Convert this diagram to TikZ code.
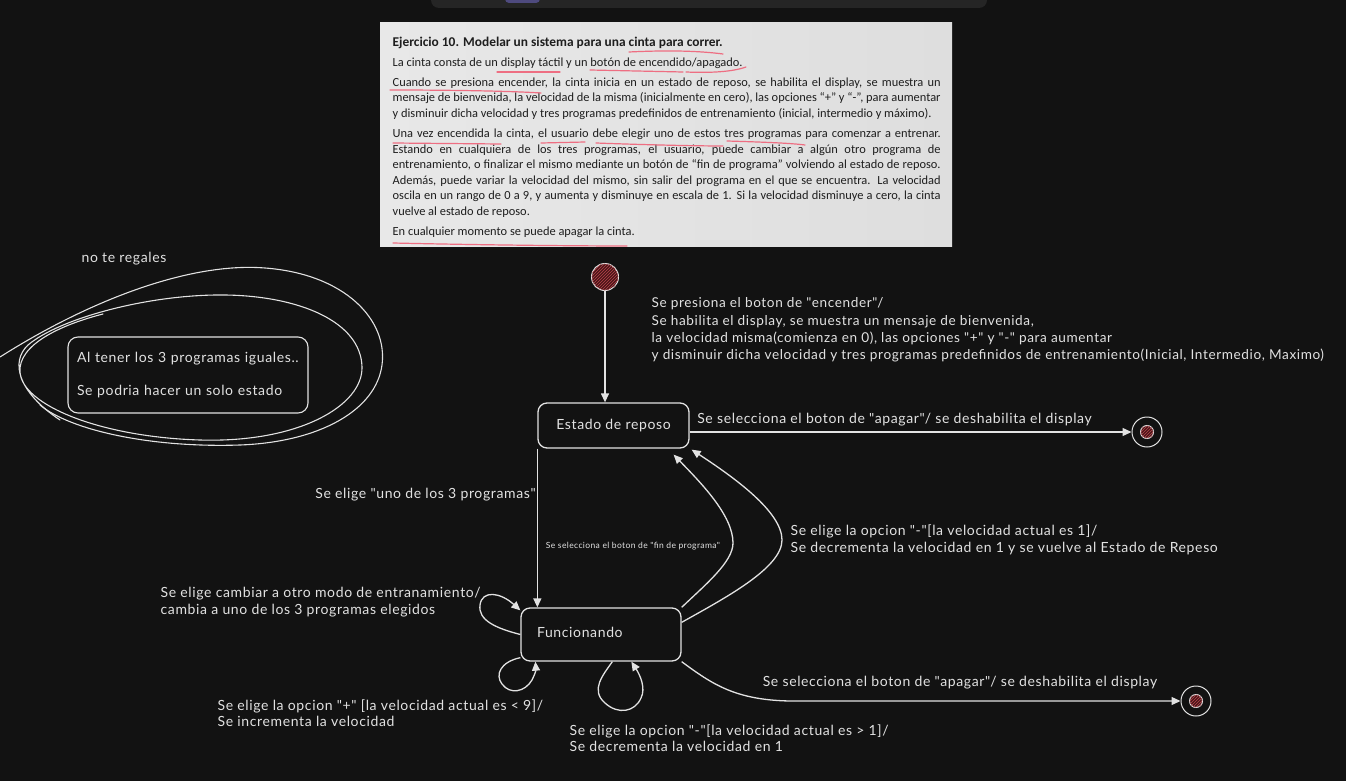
\documentclass[tikz,border=0pt]{standalone}
\usepackage{fontspec}
\setmainfont{Lato}
\newfontfamily\handfam{Lato}[LetterSpace=4.5]
\newfontfamily\carlito{Carlito}
\usetikzlibrary{arrows.meta, patterns}

\definecolor{fondo}{HTML}{121212}
\definecolor{barra}{HTML}{252525}
\definecolor{violeta}{HTML}{4E4A7E}
\definecolor{papel}{HTML}{E8E8E8}
\definecolor{papelOsc}{HTML}{DEDEDE}
\definecolor{letra}{HTML}{1E1E1E}
\definecolor{ink}{HTML}{E2E2E2}
\definecolor{rosa}{HTML}{EE6E82}
\definecolor{vino}{HTML}{4A1618}
\definecolor{rayado}{HTML}{B8444C}

\newcommand\hand{\handfam\fontsize{14}{16.5}\selectfont}

\begin{document}
\begin{tikzpicture}[x=1pt, y=-1pt, line width=1.3pt,
          estado/.style={draw=ink, rounded corners=9pt, minimum width=151pt,
            minimum height=45pt, font=\hand, text=ink},
          inicio/.style={circle, draw=ink, line width=1pt, fill=vino,
            postaction={pattern=north east lines, pattern color=rayado},
            minimum size=27pt, inner sep=0pt},
          fin/.style={circle, draw=ink, line width=1pt, minimum size=30pt, inner sep=0pt},
          trans/.style={draw=ink, -{Triangle[length=9pt, width=8pt]}},
          lbl/.style={font=\hand, text=ink, align=left, inner sep=0pt},
          garabato/.style={draw=ink, line width=1.1pt, line cap=round},
          subrayado/.style={draw=rosa, line width=1.2pt, line cap=round},
        ]
          \useasboundingbox (0,0) rectangle (1346,781);
          \fill[fondo] (0,0) rectangle (1346,781);

          % barra de arriba
          \fill[barra, rounded corners=8pt] (431,-12) rectangle (987,8);
          \fill[violeta, rounded corners=4pt] (505,-8) rectangle (540,3);

          % enunciado
          \shade[left color=papel, right color=papelOsc] (380,23) rectangle (952,246);
          \node[anchor=north west, inner sep=0pt, text width=548pt, align=justify,
                text=letra, font=\carlito\fontsize{12.4}{15.6}\selectfont]
                (enunciado) at (392,36) {\setlength\parskip{4.5pt}\tolerance=10000\hbadness=10000
            {\fontsize{13.4}{15.6}\selectfont\textbf{Ejercicio 10. Modelar un sistema para una cinta para correr.}}\par
            La cinta consta de un display táctil y un botón de encendido/apagado.\par
            Cuando se presiona encender, la cinta inicia en un estado de reposo, se habilita el display, se muestra un\linebreak
            mensaje de bienvenida, la velocidad de la misma (inicialmente en cero), las opciones “+” y “-”, para aumentar\linebreak
            y disminuir dicha velocidad y tres programas predefinidos de entrenamiento (inicial, intermedio y máximo).\par
            Una vez encendida la cinta, el usuario debe elegir uno de estos tres programas para comenzar a entrenar.\linebreak
            Estando en cualquiera de los tres programas, el usuario, puede cambiar a algún otro programa de\linebreak
            entrenamiento, o finalizar el mismo mediante un botón de “fin de programa” volviendo al estado de reposo.\linebreak
            Además, puede variar la velocidad del mismo, sin salir del programa en el que se encuentra. La velocidad\linebreak
            oscila en un rango de 0 a 9, y aumenta y disminuye en escala de 1. Si la velocidad disminuye a cero, la cinta\linebreak
            vuelve al estado de reposo.\par
            En cualquier momento se puede apagar la cinta.};
          \draw[subrayado] (629,52) .. controls (670,50) and (700,51) .. (723,54);
          \draw[subrayado] (497,72) -- (560,72);
          \draw[subrayado] (590,70) -- (683,72);
          \draw[subrayado] (686,72) .. controls (710,73) and (732,72) .. (746,67);
          \draw[subrayado] (390,90) .. controls (450,90) and (510,91) .. (541,93);
          \draw[subrayado] (393,143) -- (501,144);
          \draw[subrayado] (541,143) -- (585,142);
          \draw[subrayado] (596,143) .. controls (650,145) and (700,146) .. (723,146);
          \draw[subrayado] (727,141) .. controls (760,142) and (790,143) .. (805,145);
          \draw[subrayado] (393,243) .. controls (480,245) and (580,246) .. (627,246);

          % nota
          \node[lbl] (regales) at (124,259) {no te regales};
          \node[draw=ink, line width=1.1pt, rounded corners=10pt, minimum width=240pt,
                minimum height=76pt, text width=228pt, lbl, inner xsep=6pt, text=ink]
                (nota) at (188,375) {\hspace*{3pt}Al tener los 3 programas iguales..\\[17pt]\hspace*{3pt}Se podria hacer un solo estado};
          \draw[garabato] (0,357) .. controls (90,300) and (190,262) .. (265,268)
            .. controls (345,274) and (388,320) .. (382,365)
            .. controls (376,410) and (320,442) .. (240,445)
            .. controls (150,448) and (70,430) .. (40,405);
          \draw[garabato] (103,314) .. controls (60,325) and (18,345) .. (20,372)
            .. controls (22,405) and (100,437) .. (200,440)
            .. controls (300,443) and (363,405) .. (362,367)
            .. controls (361,322) and (300,296) .. (225,295)
            .. controls (150,294) and (60,318) .. (28,345)
            .. controls (10,362) and (18,392) .. (60,420);

          % estados
          \node[inicio] (ini) at (605,277) {};
          \node[estado] (reposo) at (613.5,425.5) {Estado de reposo};
          \node[estado, minimum width=160pt, minimum height=53pt, text width=128pt,
                inner xsep=16pt, align=left] (func) at (601,634.5) {\raisebox{4pt}{Funcionando}};
          \node[fin] (fin1) at (1147,432) {};
          \node[inicio, minimum size=13pt] (fin1in) at (fin1) {};
          \node[fin] (fin2) at (1196,701) {};
          \node[inicio, minimum size=13pt] (fin2in) at (fin2) {};

          % transiciones
          \draw[trans] (ini) -- (ini |- reposo.north);
          \node[lbl, anchor=west, font=\handfam\fontsize{13.6}{17.3}\selectfont] (lblEnc) at (651,330)
            {Se presiona el boton de "encender"/\\
             Se habilita el display, se muestra un mensaje de bienvenida,\\
             la velocidad misma(comienza en 0), las opciones "+" y "-" para aumentar\\
             y disminuir dicha velocidad y tres programas predefinidos de entrenamiento(Inicial, Intermedio, Maximo)};

          \draw[trans] (reposo.east |- fin1) -- (fin1)
            node[lbl, pos=0, anchor=south west, xshift=7pt, yshift=5pt]
            {Se selecciona el boton de "apagar"/ se deshabilita el display};

          \draw[trans] (reposo.south west) -- (reposo.south west |- func.north)
            node[lbl, pos=0.29, anchor=east, xshift=-1pt] {Se elige "uno de los 3 programas"};

          \draw[trans] (func.north east) .. controls (705,585) and (733,562) .. (733,543)
            .. controls (733,515) and (700,482) .. ([xshift=-16pt,yshift=-6pt]reposo.south east);
          \node[lbl, font=\handfam\fontsize{8.5}{10}\selectfont] (lblFin) at (633,546)
            {Se selecciona el boton de "fin de programa"};

          \draw[trans] ([yshift=-15pt]func.north east) .. controls (725,598) and (782,568) .. (782,540)
            .. controls (782,512) and (735,478) .. ([xshift=2pt,yshift=-1pt]reposo.south east);
          \node[lbl, anchor=west] (lblUno) at (790,540)
            {Se elige la opcion "-"[la velocidad actual es 1]/\\
             Se decrementa la velocidad en 1 y se vuelve al Estado de Repeso};

          \draw[trans] (func.west) .. controls (495,628) and (478,620) .. (480,605)
            .. controls (482,590) and (500,592) .. ([yshift=-3pt]func.north west);
          \node[lbl, anchor=west] (lblCambio) at (160,602)
            {Se elige cambiar a otro modo de entranamiento/\\
             cambia a uno de los 3 programas elegidos};

          \draw[trans] ([yshift=4pt]func.south west) .. controls (500,662) and (495,675) .. (502,684)
            .. controls (510,695) and (525,692) .. (532,680)
            .. controls (535,674) and (536,670) .. ([xshift=15pt]func.south west);
          \node[lbl, anchor=west] (lblMas) at (217,713)
            {Se elige la opcion "+" [la velocidad actual es < 9]/\\
             Se incrementa la velocidad};

          \draw[trans] ([xshift=92pt]func.south west) .. controls (603,675) and (590,690) .. (605,703)
            .. controls (618,715) and (635,712) .. (641,698)
            .. controls (646,688) and (640,675) .. ([xshift=111pt]func.south west);
          \node[lbl, anchor=west] (lblMenos) at (569,738)
            {Se elige la opcion "-"[la velocidad actual es > 1]/\\
             Se decrementa la velocidad en 1};

          \draw[trans] (func.south east) .. controls (712,684) and (735,700) .. (790,701) -- (fin2);
          \node[lbl] (lblApagar) at (960,683)
            {Se selecciona el boton de "apagar"/ se deshabilita el display};
        \end{tikzpicture}
\end{document}
